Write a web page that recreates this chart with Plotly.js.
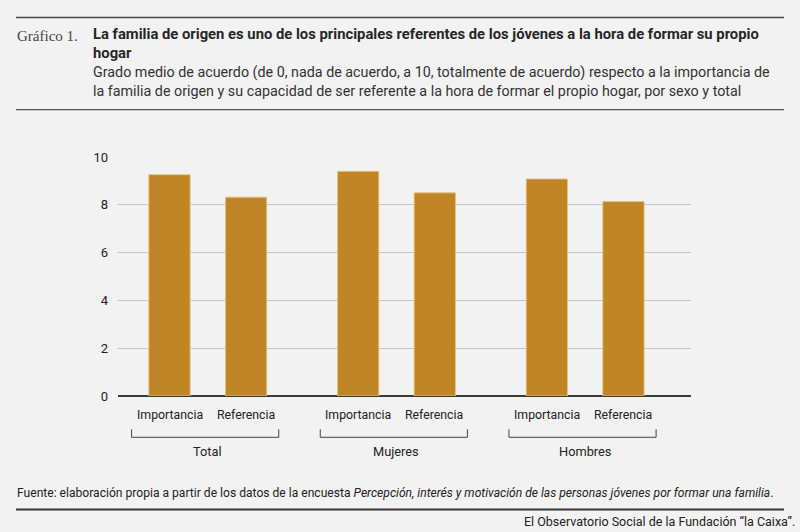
<!DOCTYPE html>
<html>
<head>
<meta charset="utf-8">
<script src="https://cdn.plot.ly/plotly-3.0.1.min.js"></script>
<style>
  html, body { margin: 0; padding: 0; background: #f2f2f2; }
  #chart { width: 800px; height: 532px; }
</style>
</head>
<body>
<div id="chart"></div>
<script>
// data
var groups = ['Total', 'Mujeres', 'Hombres'];
var importancia = [9.26, 9.40, 9.08];
var referencia = [8.32, 8.50, 8.14];
var barLabels = ['Importancia', 'Referencia'];
var yTicks = [0, 2, 4, 6, 8, 10];

var FONT = '"Liberation Sans Narrow", "Roboto", sans-serif';
var BAR_COLOR = '#bf8526';

// plot area in page pixels, used to place texts and lines around it
var PL = 118, PR = 691, PT = 157.3, PB = 395.8;
function px(x) { return (x - PL) / (PR - PL); }
function py(y) { return (PB - y) / (PB - PT); }

var trace1 = {
  x: groups,
  y: importancia,
  type: 'bar',
  name: barLabels[0],
  marker: { color: BAR_COLOR, line: { color: 'rgba(230,195,130,0.9)', width: 1 } },
  hoverinfo: 'y'
};
var trace2 = {
  x: groups,
  y: referencia,
  type: 'bar',
  name: barLabels[1],
  marker: { color: BAR_COLOR, line: { color: 'rgba(230,195,130,0.9)', width: 1 } },
  hoverinfo: 'y'
};

var annotations = [];
var shapes = [];

function note(x, y, text, font, extra) {
  var a = {
    xref: 'paper', yref: 'paper', x: px(x), y: py(y), xanchor: 'left', yanchor: 'middle',
    align: 'left', text: text, showarrow: false, borderpad: 0, borderwidth: 0, font: font
  };
  for (var k in extra) a[k] = extra[k];
  annotations.push(a);
}

// header
note(17, 37, 'Gráfico 1.', { family: '"Liberation Serif", "DejaVu Serif", serif', size: 15, color: '#444' });
note(93, 44, '<b>La familia de origen es uno de los principales referentes de los jóvenes a la hora de formar su propio<br>hogar</b>',
  { family: FONT, size: 14.8, color: '#262626' });
note(93, 82, 'Grado medio de acuerdo (de 0, nada de acuerdo, a 10, totalmente de acuerdo) respecto a la importancia de<br>la familia de origen y su capacidad de ser referente a la hora de formar el propio hogar, por sexo y total',
  { family: FONT, size: 14.3, color: '#333' });

// footer
note(17, 493, 'Fuente: elaboración propia a partir de los datos de la encuesta <i>Percepción, interés y motivación de las personas jóvenes por formar una familia</i>.',
  { family: FONT, size: 12.1, color: '#222' });
note(795, 521, 'El Observatorio Social de la Fundación “la Caixa”.',
  { family: FONT, size: 12.5, color: '#222' }, { xanchor: 'right' });

// bar labels, brackets and group names under the axis
groups.forEach(function (g, i) {
  barLabels.forEach(function (lab, j) {
    annotations.push({
      xref: 'x', yref: 'paper', x: g, y: py(414.5), xanchor: 'center', yanchor: 'middle',
      xshift: j === 0 ? -38.3 : 38.3, borderpad: 0,
      text: lab, showarrow: false, font: { family: FONT, size: 12.3, color: '#222' }
    });
  });
  annotations.push({
    xref: 'x', yref: 'paper', x: g, y: py(451), xanchor: 'center', yanchor: 'middle', borderpad: 0,
    text: g, showarrow: false, font: { family: FONT, size: 12.8, color: '#222' }
  });
  var bl = i - 0.404, br = i + 0.376;
  var line = { color: '#444', width: 1 };
  shapes.push({ type: 'line', xref: 'x', yref: 'paper', x0: bl, x1: br, y0: py(437), y1: py(437), line: line });
  shapes.push({ type: 'line', xref: 'x', yref: 'paper', x0: bl, x1: bl, y0: py(429), y1: py(437), line: line });
  shapes.push({ type: 'line', xref: 'x', yref: 'paper', x0: br, x1: br, y0: py(429), y1: py(437), line: line });
});

// rules
shapes.push({ type: 'line', xref: 'paper', yref: 'paper', x0: px(16), x1: px(784), y0: py(18), y1: py(18), line: { color: '#4a4a4a', width: 1.5 } });
shapes.push({ type: 'line', xref: 'paper', yref: 'paper', x0: px(16), x1: px(784), y0: py(110), y1: py(110), line: { color: '#555', width: 1.2 } });
shapes.push({ type: 'line', xref: 'paper', yref: 'paper', x0: px(16), x1: px(784), y0: py(509), y1: py(509), line: { color: '#3a3330', width: 2 } });

var layout = {
  width: 800,
  height: 532,
  paper_bgcolor: '#f2f2f2',
  plot_bgcolor: '#f2f2f2',
  showlegend: false,
  barmode: 'group',
  bargap: 0.188,
  bargroupgap: 0.461,
  margin: { l: PL, r: 800 - PR, t: PT, b: 532 - PB, pad: 0 },
  font: { family: FONT, color: '#222' },
  xaxis: {
    type: 'category',
    range: [-0.476, 2.561],
    showticklabels: false,
    showgrid: false,
    zeroline: false,
    showline: false,
    fixedrange: true
  },
  yaxis: {
    range: [0, 10],
    tickvals: yTicks,
    ticktext: yTicks.map(String),
    showgrid: true,
    gridcolor: '#c6c6c6',
    gridwidth: 1,
    zeroline: true,
    zerolinecolor: '#3a3a3a',
    zerolinewidth: 1.6,
    showline: false,
    ticks: '',
    ticklabelstandoff: 9,
    tickfont: { family: FONT, size: 13, color: '#222' },
    fixedrange: true
  },
  annotations: annotations,
  shapes: shapes
};

Plotly.newPlot('chart', [trace1, trace2], layout, { displayModeBar: false, staticPlot: true });
</script>
</body>
</html>
